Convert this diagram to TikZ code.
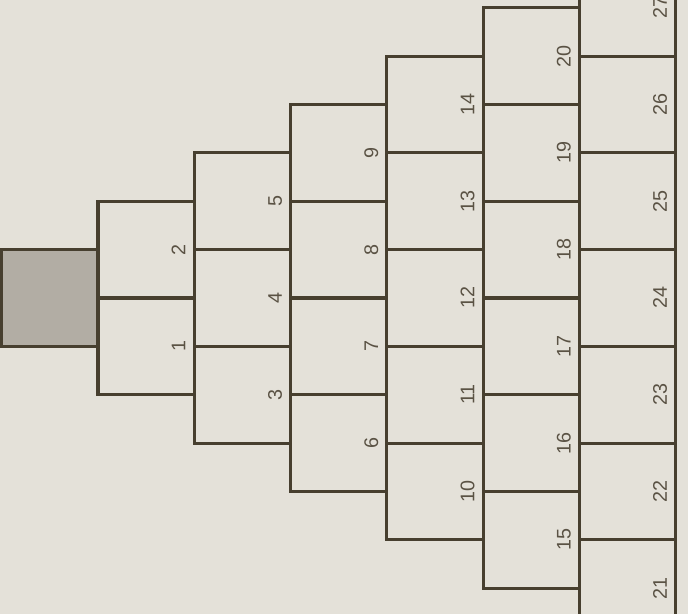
\documentclass[tikz,border=0pt]{standalone}
\usepackage{fontspec}
\setmainfont{Liberation Sans}
\definecolor{paper}{HTML}{E4E1D9}
\definecolor{ink}{HTML}{473F2F}
\definecolor{shade}{HTML}{B2ADA4}

\begin{document}
\begin{tikzpicture}[x=0.995cm, y=1cm,
  cell/.style={shape=rectangle, draw=ink, line width=0.9pt, minimum width=1cm, minimum height=0.995cm,
    inner sep=0pt, rotate=90, text height=23.1pt, text depth=0pt, text=ink!90,
    font=\fontsize{5.8}{6}\selectfont}] % labels sit near the right edge of each box
  \path[use as bounding box, fill=paper] (-0.018,-3.265) rectangle (7.127,3.079);
  \clip (-0.018,-3.265) rectangle (7.127,3.079);

  \node[cell, fill=shade] (S) at (0.5,0) {};

  \node[cell] (B1) at (1.5,-0.5) {1};
  \node[cell] (B2) at (1.5,0.5) {2};

  \node[cell] (B3) at (2.5,-1) {3};
  \node[cell] (B4) at (2.5,0) {4};
  \node[cell] (B5) at (2.5,1) {5};

  \node[cell] (B6) at (3.5,-1.5) {6};
  \node[cell] (B7) at (3.5,-0.5) {7};
  \node[cell] (B8) at (3.5,0.5) {8};
  \node[cell] (B9) at (3.5,1.5) {9};

  \node[cell] (B10) at (4.5,-2) {10};
  \node[cell] (B11) at (4.5,-1) {11};
  \node[cell] (B12) at (4.5,0) {12};
  \node[cell] (B13) at (4.5,1) {13};
  \node[cell] (B14) at (4.5,2) {14};

  \node[cell] (B15) at (5.5,-2.5) {15};
  \node[cell] (B16) at (5.5,-1.5) {16};
  \node[cell] (B17) at (5.5,-0.5) {17};
  \node[cell] (B18) at (5.5,0.5) {18};
  \node[cell] (B19) at (5.5,1.5) {19};
  \node[cell] (B20) at (5.5,2.5) {20};

  \node[cell] (B21) at (6.5,-3) {21};
  \node[cell] (B22) at (6.5,-2) {22};
  \node[cell] (B23) at (6.5,-1) {23};
  \node[cell] (B24) at (6.5,0) {24};
  \node[cell] (B25) at (6.5,1) {25};
  \node[cell] (B26) at (6.5,2) {26};
  \node[cell] (B27) at (6.5,3) {27};
\end{tikzpicture}
\end{document}
